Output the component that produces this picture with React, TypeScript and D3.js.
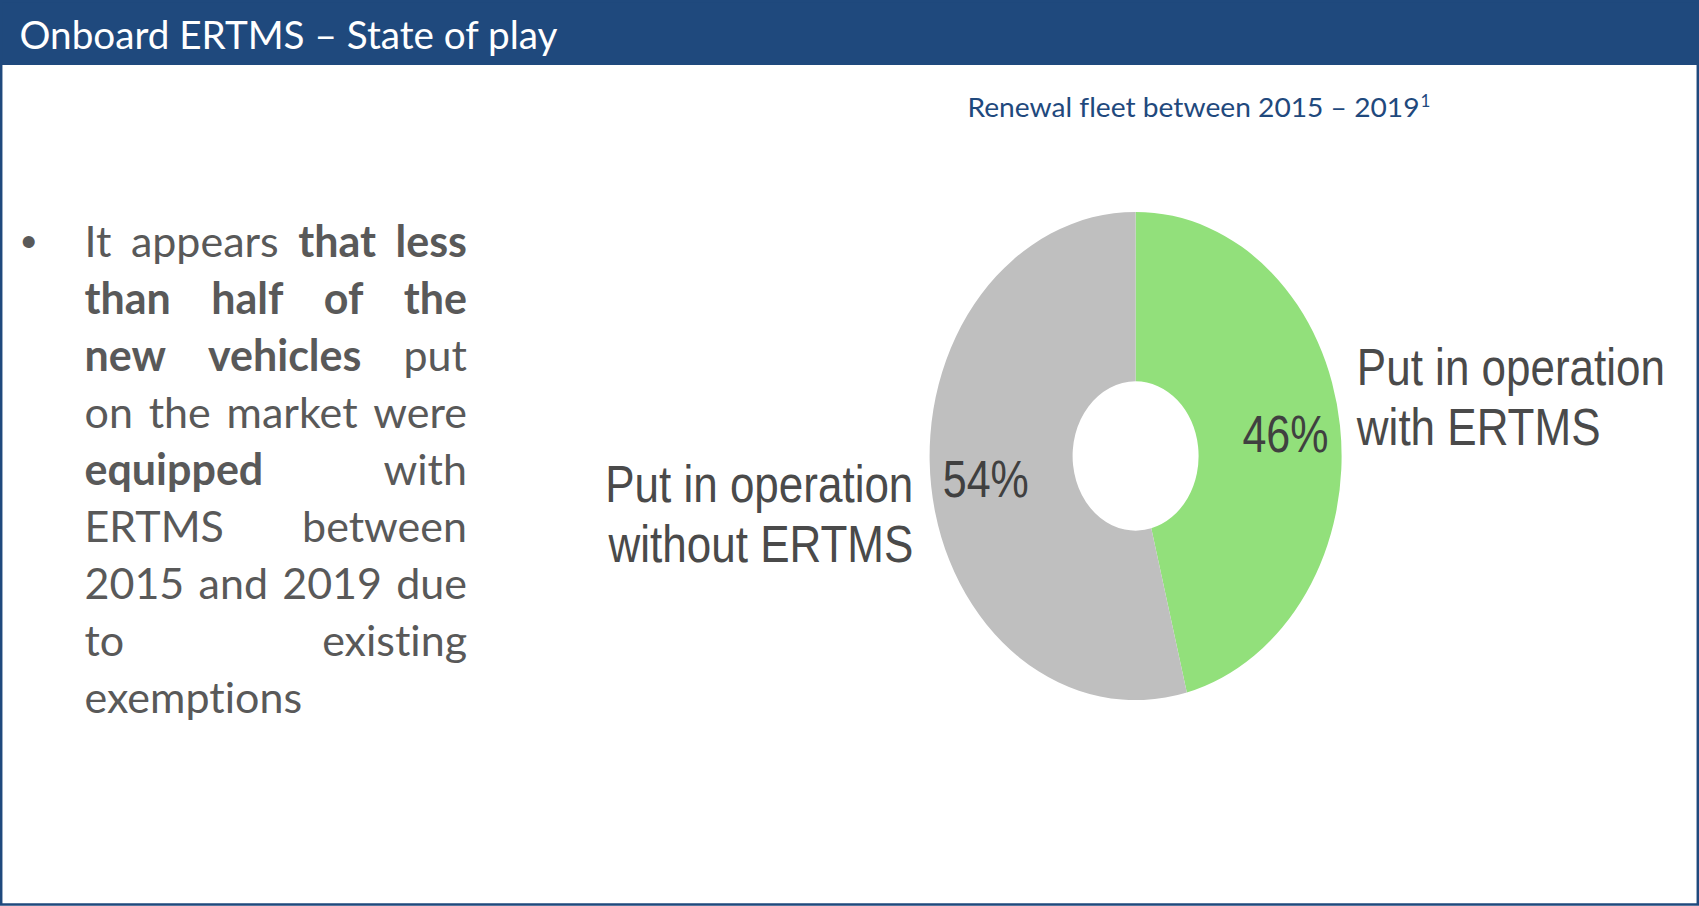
import React, { useEffect, useRef } from "react";
import * as d3 from "d3";

// ---- data ----
const titleText = "Onboard ERTMS \u2013 State of play";
const subtitleText = "Renewal fleet between 2015 \u2013 2019";
const subtitleNote = "1";
const categories = ["Put in operation with ERTMS", "Put in operation without ERTMS"];
const categoryLines = [
  ["Put in operation", "with ERTMS"],
  ["Put in operation", "without ERTMS"],
];
const values = [46, 54];
const sliceColors = ["#92E07B", "#BFBFBF"];
const bulletLines: [string, boolean][][] = [
  [["It appears", false], ["that less", true]],
  [["than half of the", true]],
  [["new vehicles", true], ["put", false]],
  [["on the market were", false]],
  [["equipped", true], ["with", false]],
  [["ERTMS between", false]],
  [["2015 and 2019 due", false]],
  [["to existing", false]],
  [["exemptions", false]],
];

// ---- layout ----
const W = 1699;
const H = 906;
const BLUE = "#1F497D";
const cx = 1135.6;
const cy = 456;
const yStretch = 1.185;
const R = 206;
const r0 = 63;
const pctRadius = 151;
const textLeft = 84.5;
const textRight = 467;
const textTop = 257;
const lineGap = 57;
const bodySize = 43;
const noLig = { fontVariantLigatures: "none" as const, fontFeatureSettings: "'liga' 0, 'clig' 0" };

export default function App() {
  const bodyRef = useRef<SVGGElement | null>(null);

  useEffect(() => {
    const layout = () => {
      const g = d3.select(bodyRef.current);
      g.selectAll("*").remove();
      bulletLines.forEach((segs, li) => {
        const words: { t: string; b: boolean }[] = [];
        segs.forEach(([s, b]) => s.split(" ").forEach((t) => words.push({ t, b })));
        const y = textTop + li * lineGap;
        const nodes = words.map((w) =>
          g
            .append("text")
            .attr("y", y)
            .attr("font-family", "Lato, 'Open Sans', sans-serif")
            .attr("font-size", bodySize)
            .attr("font-weight", w.b ? 700 : 400)
            .attr("fill", "#595959")
            .style("font-variant-ligatures", "none")
            .style("font-feature-settings", "'liga' 0, 'clig' 0")
            .text(w.t)
        );
        const widths = nodes.map((n) => (n.node() as SVGTextElement).getComputedTextLength());
        const sum = d3.sum(widths);
        const last = li === bulletLines.length - 1;
        const spaceW = bodySize * 0.26;
        const gap = !last && nodes.length > 1 ? (textRight - textLeft - sum) / (nodes.length - 1) : spaceW;
        let x = textLeft;
        nodes.forEach((n, i) => {
          n.attr("x", x);
          x += widths[i] + gap;
        });
      });
    };
    layout();
    if ((document as any).fonts && (document as any).fonts.ready) {
      (document as any).fonts.ready.then(layout);
    }
  }, []);

  const pie = d3.pie<number>().sort(null).value((d) => d)(values);
  const arc = d3.arc<d3.PieArcDatum<number>>().innerRadius(r0).outerRadius(R);
  const pctArc = d3.arc<d3.PieArcDatum<number>>().innerRadius(pctRadius).outerRadius(pctRadius);
  const outerArc = d3.arc<d3.PieArcDatum<number>>().innerRadius(R + 15).outerRadius(R + 15);

  // per-label text offsets (layout)
  const catLayout = [
    { dx: 2, dy: [-32.5, 18.5] },
    { dx: -3, dy: [11, 62] },
  ];

  return (
    <div style={{ position: "absolute", left: 0, top: 0 }}>
      <svg width={W} height={H} viewBox={`0 0 ${W} ${H}`} style={{ display: "block" }}>
        <rect x={0} y={0} width={W} height={H} fill="#ffffff" />
        <rect x={0} y={0} width={W} height={65} fill={BLUE} />
        <rect x={0} y={0} width={W} height={1.5} fill="#3b5f8e" />
        <rect x={1.2} y={1} width={W - 2.4} height={H - 2.5} fill="none" stroke={BLUE} strokeWidth={2.5} />
        <text
          x={19.5}
          y={48.8}
          fill="#ffffff"
          fontFamily="Lato, 'Open Sans', sans-serif"
          fontSize={38}
          textLength={538}
          lengthAdjust="spacingAndGlyphs"
          style={noLig}
        >
          {titleText}
        </text>
        <text
          x={967.5}
          y={117}
          fill={BLUE}
          fontFamily="Lato, 'Open Sans', sans-serif"
          fontSize={27.5}
          textLength={452}
          lengthAdjust="spacingAndGlyphs"
          style={noLig}
        >
          {subtitleText}
        </text>
        <text x={1420.5} y={107} fill={BLUE} fontFamily="Lato, 'Open Sans', sans-serif" fontSize={17}>
          {subtitleNote}
        </text>

        {/* bullet */}
        <text x={21} y={textTop} fill="#595959" fontFamily="'Liberation Sans', Arial, sans-serif" fontSize={44}>
          {"\u2022"}
        </text>
        <g ref={bodyRef} />

        {/* donut */}
        <g transform={`translate(${cx},${cy}) scale(1,${yStretch})`}>
          {pie.map((p, i) => (
            <path key={categories[i]} d={arc(p) || ""} fill={sliceColors[i]} />
          ))}
          {pie.map((p, i) => {
            const [x, y] = pctArc.centroid(p);
            return (
              <text
                key={"pct" + i}
                x={x}
                y={y}
                dy="0.36em"
                textAnchor="middle"
                fill="#404040"
                fontFamily="'Liberation Sans', Arial, sans-serif"
                fontSize={43}
              >
                {`${values[i]}%`}
              </text>
            );
          })}
          {pie.map((p, i) => {
            const [x, y] = outerArc.centroid(p);
            const right = x > 0;
            return (
              <text
                key={"cat" + i}
                textAnchor={right ? "start" : "end"}
                fill="#4a4a4a"
                fontFamily="'Liberation Sans', Arial, sans-serif"
                fontSize={44}
              >
                {categoryLines[i].map((line, j) => (
                  <tspan key={j} x={x + catLayout[i].dx} y={y + catLayout[i].dy[j]}>
                    {line}
                  </tspan>
                ))}
              </text>
            );
          })}
        </g>
      </svg>
    </div>
  );
}
